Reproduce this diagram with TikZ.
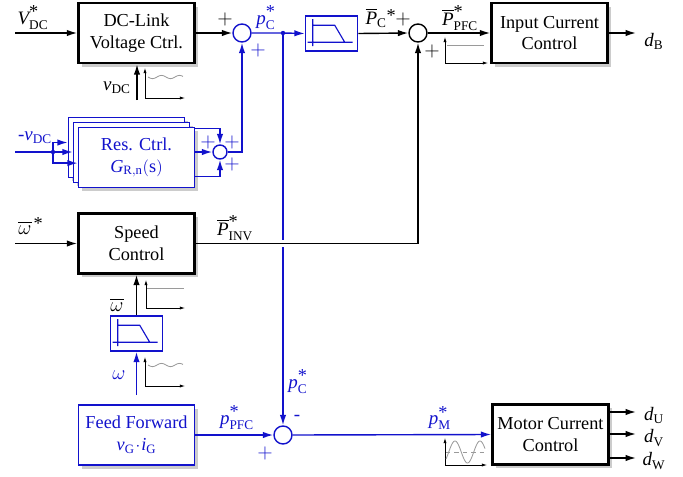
\documentclass[tikz,border=0pt]{standalone}
\usepackage{amsmath}
\usepackage{fontspec}
\setmainfont{Liberation Serif}
\usetikzlibrary{arrows.meta,positioning,calc,shadows}
\definecolor{ctlblue}{HTML}{1212CC}
\definecolor{wavegray}{HTML}{9A9A9A}
\newcommand{\iv}[1]{\textit{#1}}
\newcommand{\st}{\text{\raisebox{-0.3em}{\fontsize{13}{13}\selectfont *}}}
\tikzset{
  ctrlbox/.style={
    draw=black, fill=white, line width=1.8pt,
    minimum width=29mm, minimum height=15mm,
    align=center, font=\fontsize{13}{15.6}\selectfont,
    drop shadow={shadow xshift=0.9mm, shadow yshift=-0.9mm, opacity=0.4}
  },
  bluebox/.style={ctrlbox, draw=ctlblue, line width=1.1pt, text=ctlblue},
  fltbox/.style={draw=ctlblue, fill=white, line width=1.1pt,
    minimum width=13mm, minimum height=8.75mm},
  sumnode/.style={circle, draw=black, fill=white, line width=1pt,
    minimum size=4.5mm, inner sep=0pt},
  bsum/.style={sumnode, draw=ctlblue},
  sig/.style={-{Latex[length=2.6mm,width=1.6mm]}, line width=1pt},
  bsig/.style={sig, draw=ctlblue},
  bline/.style={draw=ctlblue, line width=1pt},
  lbl/.style={font=\fontsize{13.5}{15}\selectfont, inner sep=1pt},
  blbl/.style={lbl, text=ctlblue},
  sigaxis/.style={{Latex[length=1.3mm,width=0.8mm]}-{Latex[length=1.3mm,width=0.8mm]},
    line width=0.5pt},
  sigtrace/.style={draw=wavegray, line width=0.6pt},
  fltline/.style={draw=ctlblue, line width=0.8pt},
  crossgap/.style={preaction={draw=white, line width=5pt, -,
    shorten <=5mm, shorten >=5mm}}
}
\begin{document}
\begin{tikzpicture}[x=0.25mm, y=-0.25mm]
  \useasboundingbox (0,0) rectangle (683,476);

  % upper path: dc link voltage
  \node[ctrlbox] (dclink) at (136.5,33) {DC-Link\\Voltage Ctrl.};
  \node[bsum] (sum1) at (242,33) {};
  \node[fltbox] (flt) at (331.5,33.5) {};
  \node[sumnode] (sum2) at (418,33) {};
  \node[ctrlbox] (icc) at (549.5,33) {Input Current\\Control};

  % resonant controllers
  \node[bluebox] (resback) at (126.5,147.5) {};
  \node[bluebox] (resmid) at (131.5,152.5) {};
  \node[bluebox] (res) at (136.5,157.5)
    {Res. Ctrl.\\$\iv{G}_{\mathrm{R,n}}(\mathrm{s})$};
  \node[bsum, minimum size=3.5mm] (rsum) at (220,152) {};

  % speed path
  \node[ctrlbox] (speed) at (136.5,243.5) {Speed\\Control};
  \node[fltbox] (wflt) at (136.5,333.5) {};

  % lower path
  \node[bluebox] (ff) at (136.5,435) {Feed Forward\\$\iv{v}_{\mathrm{G}}\!\cdot\!\iv{i}_{\mathrm{G}}$};
  \node[bsum] (sum3) at (283,435) {};
  \node[ctrlbox] (mcc) at (550.5,434.5) {Motor Current\\Control};

  \coordinate (vdcref) at (15,33);
  \coordinate (vdcfb) at (137,100);
  \coordinate (jn) at (283,33);
  \coordinate (db) at (636,33);
  \coordinate (vin) at (15,152);
  \coordinate (jr) at (53,152);
  \coordinate (wref) at (15,243.5);
  \coordinate (wmeas) at (136.5,395);
  \coordinate (du) at (636,412);
  \coordinate (dv) at (636,434);
  \coordinate (dw) at (636,458);

  \draw[sig] (vdcref) -- (dclink.west);
  \draw[sig] (vdcfb) -- (vdcfb |- dclink.south);
  \draw[sig] (dclink.east) -- (sum1.west);
  \draw[bsig] (sum1.east) -- (jn) -- (flt.west);
  \fill[ctlblue] (jn) circle (0.55mm);
  \draw[sig] (flt.east) -- (sum2.west);
  \draw[sig] (sum2.east) -- (icc.west);
  \draw[sig] (icc.east) -- (db);

  \draw[bline] (vin) -- (jr);
  \fill[ctlblue] (jr) circle (0.55mm);
  \draw[bsig] (jr) |- ([yshift=1.25mm]resback.west);
  \draw[bsig] (jr) -- (jr -| resmid.west);
  \draw[bsig] (jr) |- ([yshift=-1.4mm]res.west);
  \draw[bsig] ([yshift=-0.5mm]res.north east) -| (rsum.north);
  \draw[bsig] (rsum -| res.east) -- (rsum.west);
  \draw[bsig] ([yshift=3mm]res.south east) -| (rsum.south);
  \draw[bsig] (rsum.east) -| (sum1.south);

  \draw[bsig] (jn) -- (sum3.north);
  \draw[sig, crossgap] (speed.east) -| (sum2.south);
  \draw[sig] (wref) -- (speed.west);
  \draw[sig] (wflt.north) -- (speed.south);
  \draw[bsig] (wmeas) -- (wflt.south);

  \draw[bsig] (ff.east) -- (sum3.west);
  \draw[bsig] (sum3.east) -- (mcc.west);
  \foreach \d in {du,dv,dw}
    \draw[sig] (mcc.east |- \d) -- (\d);

  % filter icons
  \foreach \b in {flt,wflt}
    \draw[fltline] (\b.north west) ++(8,4) -- ++(0,27)
      (\b.north west) ++(3,27) -- ++(45,0)
      (\b.north west) ++(8,10) -- ++(22,0) -- ++(10,17);

  % signal icons
  \draw[sigaxis] (145,68) -- (145,98) -- (185,98);
  \draw[sigtrace] plot[domain=148:183, samples=40]
    (\x,{77+1.6*sin(360*(\x-148)/18)});
  \draw[sigaxis] (146,280) -- (146,308) -- (185,308);
  \draw[sigtrace] (147,288) -- (184,288);
  \draw[sigaxis] (145,357) -- (145,386) -- (185,386);
  \draw[sigtrace] plot[domain=148:183, samples=40]
    (\x,{365+1.6*sin(360*(\x-148)/18)});
  \draw[sigaxis] (445,37) -- (445,63) -- (488,63);
  \draw[sigtrace] (447,45) -- (484,45);
  \draw[sigaxis] (445,438) -- (445,465) -- (487,465);
  \draw[sigtrace, dashed, line width=0.4pt] (446,452) -- (486,452);
  \draw[sigtrace] plot[domain=446:485, samples=60]
    (\x,{452-11*sin(360*(\x-448.75)/25)});

  % labels
  \node[lbl] (lvdcref) at (33,18) {$\iv{V}^{\st}_{\mathrm{DC}}$};
  \node[lbl] (lvdcfb) at (117,88) {$\iv{v}_{\mathrm{DC}}$};
  \node[lbl] (ps1a) at (225,19) {$+$};
  \node[blbl] (ps1b) at (258,50) {$+$};
  \node[blbl] (lpc) at (266,18) {$\iv{p}^{\st}_{\mathrm{C}}$};
  \node[lbl] (lpcbar) at (381,18) {$\overline{\iv{P}}_{\mathrm{C}}{}^{\st}$};
  \node[lbl] (ps2a) at (403,19) {$+$};
  \node[lbl] (ps2b) at (432,51) {$+$};
  \node[lbl] (lppfc) at (460,18) {$\overline{\iv{P}}^{\st}_{\mathrm{PFC}}$};
  \node[lbl] (ldb) at (654,41) {$\iv{d}_{\mathrm{B}}$};
  \node[blbl] (lvin) at (35,138) {\text{-}$\iv{v}_{\mathrm{DC}}$};
  \node[blbl] (psra) at (208,142) {$+$};
  \node[blbl] (psrb) at (232,142) {$+$};
  \node[blbl] (psrc) at (232,164) {$+$};
  \node[lbl] (lwref) at (31,226) {$\overline{\omega}^{\,\st}$};
  \node[lbl] (lpinv) at (235,228) {$\overline{\iv{P}}^{\st}_{\mathrm{INV}}$};
  \node[lbl] (lwbar) at (117,305) {$\overline{\omega}$};
  \node[blbl] (lw) at (119,375) {$\omega$};
  \node[blbl] (lpc2) at (298,382) {$\iv{p}^{\st}_{\mathrm{C}}$};
  \node[blbl] (ms3) at (297,418) {-};
  \node[blbl] (lpff) at (237,418) {$\iv{p}^{\st}_{\mathrm{PFC}}$};
  \node[blbl] (ps3) at (265,453) {$+$};
  \node[blbl] (lpm) at (440,418) {$\iv{p}^{\st}_{\mathrm{M}}$};
  \node[lbl] (ldu) at (654,415) {$\iv{d}_{\mathrm{U}}$};
  \node[lbl] (ldv) at (654,438) {$\iv{d}_{\mathrm{V}}$};
  \node[lbl] (ldw) at (654,461) {$\iv{d}_{\mathrm{W}}$};
\end{tikzpicture}
\end{document}
